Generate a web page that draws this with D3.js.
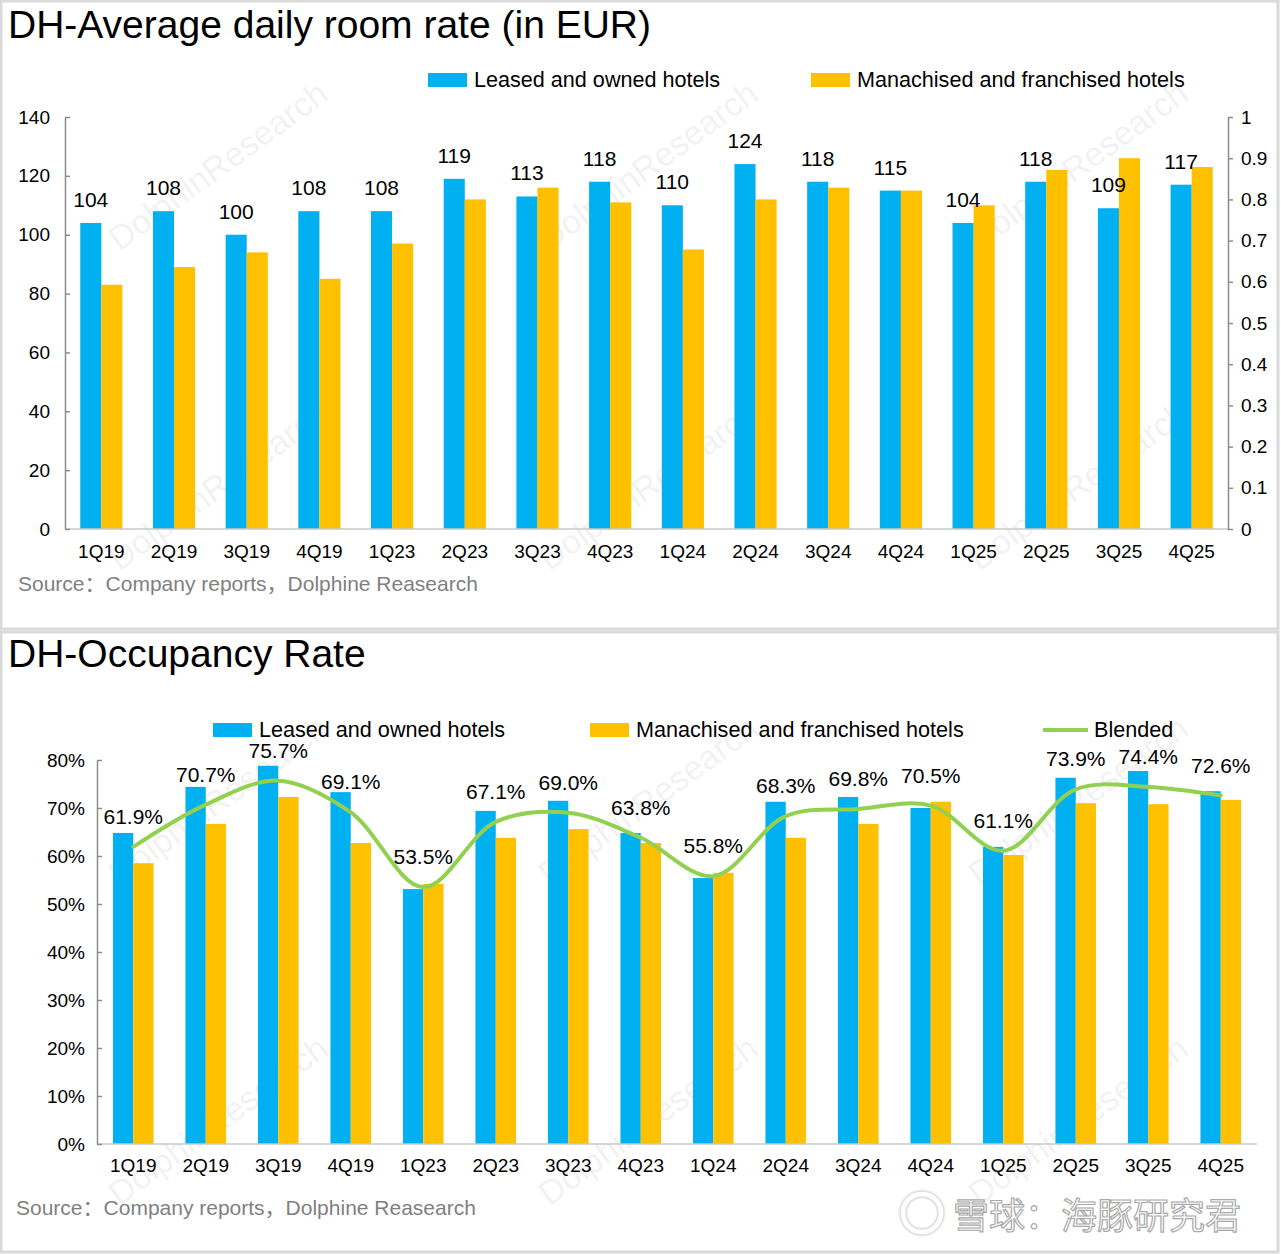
<!DOCTYPE html>
<html lang="en">
<head>
    <meta charset="UTF-8">
    <title>DH charts</title>
    <script src="https://cdn.jsdelivr.net/npm/d3@7"></script>
    <style>
        body { margin: 0; background: #fff; }
        svg text { font-family: "Liberation Sans", Arial, "Noto Sans CJK SC", sans-serif; }
    </style>
</head>
<body>
    <svg id="chart" width="1281" height="1254"></svg>

    <script>
        // quarters shown on both charts
        const quarters = ['1Q19', '2Q19', '3Q19', '4Q19', '1Q23', '2Q23', '3Q23', '4Q23',
            '1Q24', '2Q24', '3Q24', '4Q24', '1Q25', '2Q25', '3Q25', '4Q25'];

        // average daily room rate, EUR
        const adrLeased = [104, 108, 100, 108, 108, 119, 113, 118, 110, 124, 118, 115, 104, 118, 109, 117];
        const adrFranchised = [83, 89, 94, 85, 97, 112, 116, 111, 95, 112, 116, 115, 110, 122, 126, 123];
        const adrTicks = [0, 20, 40, 60, 80, 100, 120, 140];
        const rightTicks = [0, 0.1, 0.2, 0.3, 0.4, 0.5, 0.6, 0.7, 0.8, 0.9, 1];

        // occupancy rate, %
        const occLeased = [64.8, 74.4, 78.8, 73.3, 53.1, 69.4, 71.5, 64.8, 55.4, 71.3, 72.3, 70.0, 61.9, 76.3, 77.7, 73.5];
        const occFranchised = [58.5, 66.7, 72.3, 62.7, 54.2, 63.8, 65.6, 62.7, 56.5, 63.8, 66.7, 71.3, 60.2, 71.0, 70.8, 71.7];
        const occBlended = [61.9, 70.7, 75.7, 69.1, 53.5, 67.1, 69.0, 63.8, 55.8, 68.3, 69.8, 70.5, 61.1, 73.9, 74.4, 72.6];
        const occTicks = [0, 10, 20, 30, 40, 50, 60, 70, 80];

        const seriesNames = ['Leased and owned hotels', 'Manachised and franchised hotels', 'Blended'];

        const blue = '#00b0f0', yellow = '#ffc000', green = '#92d050';
        const axisGray = '#8c8c8c';

        var svg = d3.select('#chart');

        // panel frames
        svg.append('rect').attr('x', 1).attr('y', 1).attr('width', 1277).attr('height', 628)
            .attr('fill', 'none').attr('stroke', '#d9d9d9').attr('stroke-width', 3);
        svg.append('rect').attr('x', 1).attr('y', 632).attr('width', 1277).attr('height', 620)
            .attr('fill', 'none').attr('stroke', '#d9d9d9').attr('stroke-width', 3);

        // faint diagonal watermarks
        const wmX = [225, 655, 1085], wmY = [175, 495, 810, 1130];
        wmY.forEach(function (wy) {
            wmX.forEach(function (wx) {
                svg.append('text')
                    .attr('transform', `translate(${wx},${wy}) rotate(-36)`)
                    .attr('text-anchor', 'middle')
                    .attr('font-size', 34)
                    .attr('fill', '#000')
                    .attr('opacity', 0.05)
                    .text('DolphinResearch');
            });
        });

        function styleAxis(g) {
            g.select('.domain').attr('stroke', axisGray).attr('stroke-width', 1.5);
            g.selectAll('.tick line').attr('stroke', axisGray).attr('stroke-width', 1.5);
            g.selectAll('text').attr('font-size', 19).attr('fill', '#000')
                .attr('font-family', '"Liberation Sans", Arial, sans-serif');
        }

        function drawBars(g, x0, y, valsA, valsB) {
            var x1 = d3.scaleBand().domain([0, 1]).range([0, x0.bandwidth()]);
            var rows = quarters.map((q, i) => ({ q: q, v: [valsA[i], valsB[i]] }));
            g.selectAll('g.grp')
                .data(rows)
                .enter()
                .append('g')
                .attr('class', 'grp')
                .attr('transform', d => `translate(${x0(d.q)},0)`)
                .selectAll('rect')
                .data(d => d.v)
                .enter()
                .append('rect')
                .attr('x', (d, i) => x1(i))
                .attr('width', x1.bandwidth())
                .attr('y', d => y(d))
                .attr('height', d => y(0) - y(d))
                .attr('fill', (d, i) => i == 0 ? blue : yellow);
            return x1;
        }

        // ---------- chart 1: average daily room rate ----------
        svg.append('text').attr('x', 8).attr('y', 38).attr('font-size', 39)
            .text('DH-Average daily room rate (in EUR)');

        var x0a = d3.scaleBand().domain(quarters).range([65, 1228])
            .paddingInner(0.42).paddingOuter(0.21);
        var ya = d3.scaleLinear().domain([0, 140]).range([529, 117]);
        var yr = d3.scaleLinear().domain([0, 1]).range([529, 117]);

        var gA = svg.append('g');
        var x1a = drawBars(gA, x0a, ya, adrLeased, adrFranchised);

        // bottom baseline + quarter labels
        svg.append('g').attr('transform', 'translate(0,529)')
            .call(d3.axisBottom(x0a).tickSize(0).tickPadding(16))
            .call(styleAxis)
            .call(g => g.select('.domain').attr('stroke', '#c8c8c8').attr('d', 'M65,0H1228'));

        svg.append('g').attr('transform', 'translate(65,0)')
            .call(d3.axisLeft(ya).tickValues(adrTicks).tickSizeInner(-5).tickSizeOuter(0).tickPadding(15))
            .call(styleAxis);

        svg.append('g').attr('transform', 'translate(1228,0)')
            .call(d3.axisRight(yr).tickValues(rightTicks).tickSizeInner(5).tickSizeOuter(0).tickPadding(8)
                .tickFormat(d => +d.toFixed(1)))
            .call(styleAxis);

        // value labels above blue bars
        gA.selectAll('text.lbl')
            .data(adrLeased)
            .enter()
            .append('text')
            .attr('class', 'lbl')
            .attr('x', (d, i) => x0a(quarters[i]) + x1a(0) + x1a.bandwidth() / 2)
            .attr('y', d => ya(d) - 16)
            .attr('text-anchor', 'middle')
            .attr('font-size', 21)
            .text(d => d);

        // legend chart 1
        const legendA = [{ name: seriesNames[0], color: blue, x: 428 }, { name: seriesNames[1], color: yellow, x: 811 }];
        legendA.forEach(function (d) {
            svg.append('rect').attr('x', d.x).attr('y', 73).attr('width', 39).attr('height', 14).attr('fill', d.color);
            svg.append('text').attr('x', d.x + 46).attr('y', 87).attr('font-size', 21.6).text(d.name);
        });

        svg.append('text').attr('x', 18).attr('y', 591).attr('font-size', 21).attr('fill', '#7f7f7f')
            .text('Source：Company reports，Dolphine Reasearch');

        // ---------- chart 2: occupancy rate ----------
        svg.append('text').attr('x', 8).attr('y', 667).attr('font-size', 39)
            .text('DH-Occupancy Rate');

        var x0b = d3.scaleBand().domain(quarters).range([97, 1257])
            .paddingInner(0.44).paddingOuter(0.22);
        var yb = d3.scaleLinear().domain([0, 80]).range([1144, 760]);

        var gB = svg.append('g');
        drawBars(gB, x0b, yb, occLeased, occFranchised);

        svg.append('g').attr('transform', 'translate(0,1144)')
            .call(d3.axisBottom(x0b).tickSize(0).tickPadding(15))
            .call(styleAxis)
            .call(g => g.select('.domain').attr('stroke', '#c8c8c8').attr('d', 'M97,0H1257'));

        svg.append('g').attr('transform', 'translate(97,0)')
            .call(d3.axisLeft(yb).tickValues(occTicks).tickSizeInner(-5).tickSizeOuter(0).tickPadding(12)
                .tickFormat(d => d + '%'))
            .call(styleAxis);

        // blended smooth line
        var cx = d => x0b(d) + x0b.bandwidth() / 2;
        var blendLine = d3.line()
            .x((d, i) => cx(quarters[i]))
            .y(d => yb(d))
            .curve(d3.curveCatmullRom.alpha(0.5));

        gB.append('path')
            .attr('d', blendLine(occBlended))
            .attr('fill', 'none')
            .attr('stroke', green)
            .attr('stroke-width', 4)
            .attr('stroke-linecap', 'round');

        gB.selectAll('text.lbl')
            .data(occBlended)
            .enter()
            .append('text')
            .attr('class', 'lbl')
            .attr('x', (d, i) => cx(quarters[i]))
            .attr('y', d => yb(d) - 23)
            .attr('text-anchor', 'middle')
            .attr('font-size', 21)
            .text(d => d.toFixed(1) + '%');

        // legend chart 2
        svg.append('rect').attr('x', 213).attr('y', 723).attr('width', 39).attr('height', 14).attr('fill', blue);
        svg.append('text').attr('x', 259).attr('y', 737).attr('font-size', 21.6).text(seriesNames[0]);
        svg.append('rect').attr('x', 590).attr('y', 723).attr('width', 39).attr('height', 14).attr('fill', yellow);
        svg.append('text').attr('x', 636).attr('y', 737).attr('font-size', 21.6).text(seriesNames[1]);
        svg.append('line').attr('x1', 1043).attr('x2', 1088).attr('y1', 730).attr('y2', 730)
            .attr('stroke', green).attr('stroke-width', 4);
        svg.append('text').attr('x', 1094).attr('y', 737).attr('font-size', 21.6).text(seriesNames[2]);

        svg.append('text').attr('x', 16).attr('y', 1215).attr('font-size', 21).attr('fill', '#7f7f7f')
            .text('Source：Company reports，Dolphine Reasearch');

        // platform watermark bottom right
        svg.append('circle').attr('cx', 922).attr('cy', 1213).attr('r', 19)
            .attr('fill', 'none').attr('stroke', '#fff').attr('stroke-width', 5)
            .style('filter', 'drop-shadow(0 0 1.5px #9a9a9a)');
        svg.append('text').attr('x', 953).attr('y', 1229).attr('font-size', 36)
            .attr('font-family', '"Noto Sans CJK SC", sans-serif')
            .attr('fill', '#fff').attr('stroke', '#a8a8a8').attr('stroke-width', 1.2)
            .text('雪球：海豚研究君');
    </script>
</body>
</html>
